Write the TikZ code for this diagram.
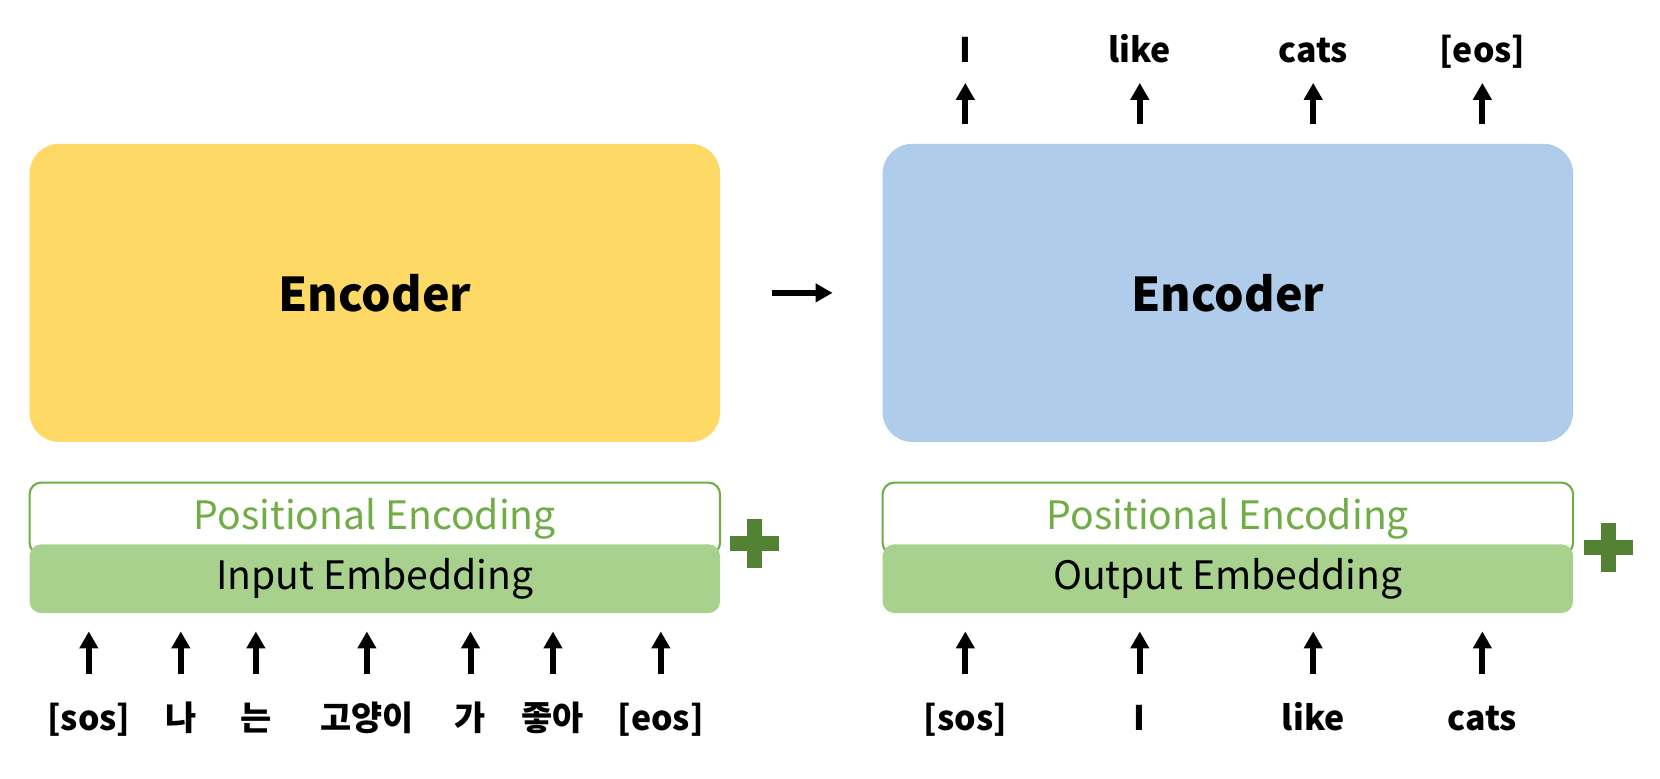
\documentclass[tikz,border=0pt]{standalone}
\usepackage{fontspec}
\setmainfont{Noto Sans CJK KR}
\usetikzlibrary{positioning, arrows.meta}

\definecolor{encyellow}{HTML}{FFD966}
\definecolor{encblue}{HTML}{AFCDEA}
\definecolor{embgreen}{HTML}{A9D18E}
\definecolor{posgreen}{HTML}{70AD47}
\definecolor{plusgreen}{HTML}{548235}

\begin{document}
\begin{tikzpicture}[x=0.5pt, y=-0.5pt, >={Triangle[length=8pt, width=8.5pt]},
    bigbox/.style={rounded corners=14pt, minimum width=326.5pt, minimum height=141pt, inner sep=0,
      font=\bfseries\fontsize{22}{22}\selectfont},
    posbox/.style={draw=posgreen, line width=1pt, fill=white, rounded corners=5.5pt, minimum width=326.5pt,
      minimum height=34pt, inner sep=0, text=posgreen, font=\fontsize{18.5}{18.5}\selectfont},
    embbox/.style={fill=embgreen, rounded corners=5.5pt, minimum width=326.5pt, minimum height=32.5pt,
      inner sep=0, font=\fontsize{18.5}{18.5}\selectfont},
    tok/.style={anchor=base, inner sep=0, text height=12pt, text depth=3.5pt,
      font=\bfseries\fontsize{16}{16}\selectfont},
    tokarrow/.style={->, line width=2.85pt},
    plussign/.style={line width=7.25pt, plusgreen}]
  \useasboundingbox (0,0) rectangle (1570,736);

  \node [bigbox, fill=encyellow] (encoder) at (354.5,277) {Encoder};
  \node [bigbox, fill=encblue, right=76.5pt of encoder] (decoder) {Encoder};

  \node [posbox, below=18.5pt of encoder] (inpos) {Positional Encoding};
  \node [embbox, below=-5.5pt of inpos] (inemb) {Input Embedding};
  \node [posbox, below=18.5pt of decoder] (outpos) {Positional Encoding};
  \node [embbox, below=-5.5pt of outpos] (outemb) {Output Embedding};

  \coordinate (inplus) at (713.6,514);
  \coordinate (outplus) at (1521,518);
  \draw [plussign] ([xshift=-11.5pt] inplus) -- ([xshift=11.5pt] inplus)
    ([yshift=-11.5pt] inplus) -- ([yshift=11.5pt] inplus);
  \draw [plussign] ([xshift=-11.5pt] outplus) -- ([xshift=11.5pt] outplus)
    ([yshift=-11.5pt] outplus) -- ([yshift=11.5pt] outplus);

  % source tokens
  \node [tok] (src1) at (84,691) {[sos]};
  \node [tok] (src2) at (171,691) {나};
  \node [tok] (src3) at (242,691) {는};
  \node [tok] (src4) at (347,691) {고양이};
  \node [tok] (src5) at (445,691) {가};
  \node [tok] (src6) at (523,691) {좋아};
  \node [tok] (src7) at (625,691) {[eos]};

  % shifted target tokens
  \node [tok] (tgt1) at (913,691) {[sos]};
  \node [tok] (tgt2) at (1078,691) {I};
  \node [tok] (tgt3) at (1242,691) {like};
  \node [tok] (tgt4) at (1402,691) {cats};

  % predicted tokens
  \node [tok] (out1) at (913,59) {I};
  \node [tok] (out2) at (1078,59) {like};
  \node [tok] (out3) at (1242,59) {cats};
  \node [tok] (out4) at (1402,59) {[eos]};

  \path [tokarrow, shorten <=14.5pt, shorten >=8.5pt]
    (src1.north) edge (src1.north |- inemb.south)
    (src2.north) edge (src2.north |- inemb.south)
    (src3.north) edge (src3.north |- inemb.south)
    (src4.north) edge (src4.north |- inemb.south)
    (src5.north) edge (src5.north |- inemb.south)
    (src6.north) edge (src6.north |- inemb.south)
    (src7.north) edge (src7.north |- inemb.south)
    (tgt1.north) edge (tgt1.north |- outemb.south)
    (tgt2.north) edge (tgt2.north |- outemb.south)
    (tgt3.north) edge (tgt3.north |- outemb.south)
    (tgt4.north) edge (tgt4.north |- outemb.south);

  \path [tokarrow, shorten <=9pt, shorten >=6pt]
    (out1.south |- decoder.north) edge (out1.south)
    (out2.south |- decoder.north) edge (out2.south)
    (out3.south |- decoder.north) edge (out3.south)
    (out4.south |- decoder.north) edge (out4.south);

  \draw [tokarrow, shorten <=24.5pt, shorten >=23.5pt] (encoder.east) -- (decoder.west);
\end{tikzpicture}
\end{document}
